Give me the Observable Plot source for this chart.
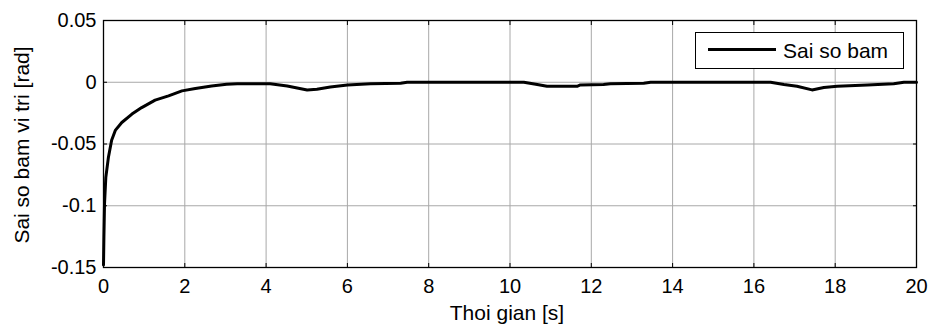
<!DOCTYPE html>
<html>
<head>
<meta charset="utf-8">
<script src="https://cdn.jsdelivr.net/npm/d3@7"></script>
<script src="https://cdn.jsdelivr.net/npm/@observablehq/plot@0.6"></script>
<style>
  html, body { margin: 0; padding: 0; background: white; }
  #chart { width: 930px; height: 324px; }
</style>
</head>
<body>
<div id="chart"></div>
<script>
// Time [s]
const time = [0, 0.01, 0.025, 0.057, 0.12, 0.2, 0.29, 0.45, 0.7, 0.94, 1.27, 1.6, 1.93, 2.26, 2.66, 3.03, 3.29, 4.1, 4.52, 5.01, 5.25, 5.58, 6.0, 6.57, 7.31, 7.47, 9.77, 10.34, 10.67, 10.91, 11.65, 11.73, 12.3, 12.47, 13.29, 13.46, 16.41, 16.74, 17.06, 17.43, 17.72, 18.05, 18.79, 19.44, 19.69, 20];
// Tracking error [rad]
const error = [-0.148, -0.125, -0.0986, -0.077, -0.061, -0.047, -0.039, -0.0326, -0.0258, -0.0205, -0.0145, -0.011, -0.007, -0.005, -0.003, -0.0017, -0.0013, -0.0013, -0.003, -0.0062, -0.0057, -0.0038, -0.0022, -0.0013, -0.0008, 0, 0, 0, -0.0018, -0.0033, -0.0033, -0.0022, -0.0018, -0.0013, -0.0008, 0, 0, -0.0018, -0.0033, -0.0062, -0.0043, -0.0033, -0.0022, -0.0013, 0, 0];

const xTicks = [0, 2, 4, 6, 8, 10, 12, 14, 16, 18, 20];
const yTicks = [-0.15, -0.1, -0.05, 0, 0.05];
const xLabel = "Thoi gian [s]";
const yLabel = "Sai so bam vi tri [rad]";
const seriesName = "Sai so bam";

const data = time.map((t, i) => ({t, e: error[i]}));
const fmtY = d => String(+d.toFixed(2));
const font = "'Liberation Sans', Arial, Helvetica, sans-serif";

const chart = Plot.plot({
  width: 930,
  height: 324,
  marginLeft: 103,
  marginRight: 14,
  marginTop: 20,
  marginBottom: 57,
  style: {fontFamily: font, fontSize: "20px", color: "black", background: "white", overflow: "visible"},
  x: {domain: [0, 20]},
  y: {domain: [-0.15, 0.05]},
  marks: [
    Plot.gridX(xTicks, {stroke: "#a8a8a8", strokeOpacity: 1, strokeWidth: 1}),
    Plot.gridY(yTicks, {stroke: "#a8a8a8", strokeOpacity: 1, strokeWidth: 1}),
    Plot.axisX(xTicks, {anchor: "bottom", tickSize: -4, tickPadding: 15, tickFormat: d => String(d), label: null, fill: "black", stroke: "black", fontSize: 20}),
    Plot.axisX(xTicks, {anchor: "top", tickSize: -4, tickFormat: () => "", label: null, stroke: "black"}),
    Plot.axisY(yTicks, {anchor: "left", tickSize: -4, tickPadding: 11, tickFormat: fmtY, label: null, fill: "black", stroke: "black", fontSize: 20}),
    Plot.axisY(yTicks, {anchor: "right", tickSize: -4, tickFormat: () => "", label: null, stroke: "black"}),
    Plot.frame({stroke: "black", strokeWidth: 1.3}),
    Plot.line(data, {x: "t", y: "e", stroke: "black", strokeWidth: 3, strokeLinejoin: "round"}),
    Plot.text([xLabel], {frameAnchor: "bottom", dy: 46, dx: -3, lineAnchor: "middle", textAnchor: "middle", fill: "black", fontSize: 21}),
    Plot.text([yLabel], {frameAnchor: "left", dx: -81, dy: 1, rotate: -90, lineAnchor: "middle", textAnchor: "middle", fill: "black", fontSize: 21})
  ]
});

// Legend box (top-right, MATLAB style)
const svg = d3.select(chart);
const lg = svg.append("g").attr("font-family", font).attr("text-anchor", "start");
lg.append("rect").attr("x", 695.5).attr("y", 32.5).attr("width", 208).attr("height", 36)
  .attr("fill", "white").attr("stroke", "black").attr("stroke-width", 1);
lg.append("line").attr("x1", 708).attr("x2", 776).attr("y1", 49.5).attr("y2", 49.5)
  .attr("stroke", "black").attr("stroke-width", 3);
lg.append("text").attr("x", 783).attr("y", 58).attr("font-size", 21).attr("text-anchor", "start").attr("fill", "black").text(seriesName);

document.getElementById("chart").appendChild(chart);
</script>
</body>
</html>
